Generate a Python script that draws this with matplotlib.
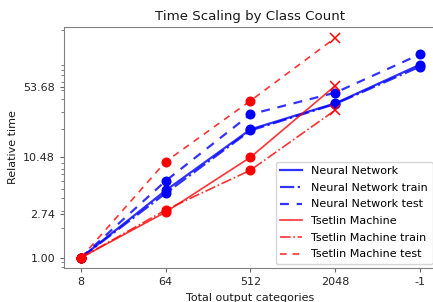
import matplotlib
matplotlib.use("Agg")
import matplotlib.pyplot as plt
import numpy as np

categories = ['8', '64', '512', '2048', '-1']
nn = [1.0, 4.8, 19.9, 36.5, 90.0]
nn_train = [1.0, 4.5, 19.4, 36.0, 86.0]
nn_test = [1.0, 6.0, 28.3, 46.8, 114.5]
tm = [1.0, 2.9, 10.4, 55.0]
tm_train = [1.0, 3.05, 7.7, 31.2]
tm_test = [1.0, 9.4, 38.8, 168.0]
yticks = [1.00, 2.74, 10.48, 53.68]

W, H = 433, 302
fig = plt.figure(figsize=(W / 100, H / 100), dpi=100)
ax = fig.add_axes([64 / W, (H - 268.3) / H, 373 / W, 241.6 / H])

x_nn = np.arange(len(nn))
x_tm = np.arange(len(tm))

lw_nn, lw_tm = 1.6, 1.2
ax.plot(x_nn, nn, color='blue', alpha=0.8, lw=lw_nn, ls='-', label='Neural Network')
ax.plot(x_nn, nn_train, color='blue', alpha=0.8, lw=lw_nn, ls='-.', label='Neural Network train')
ax.plot(x_nn, nn_test, color='blue', alpha=0.8, lw=lw_nn, ls=(0, (4, 3.5)), label='Neural Network test')
ax.plot(x_tm, tm, color='red', alpha=0.8, lw=lw_tm, ls='-', label='Tsetlin Machine')
ax.plot(x_tm, tm_train, color='red', alpha=0.8, lw=lw_tm, ls='-.', label='Tsetlin Machine train')
ax.plot(x_tm, tm_test, color='red', alpha=0.8, lw=lw_tm, ls=(0, (4, 3.5)), label='Tsetlin Machine test')

for s in (nn, nn_train, nn_test):
    ax.plot(x_nn, s, ls='none', marker='o', ms=6.2, color='blue')
for s in (tm, tm_train, tm_test):
    ax.plot(x_tm[:3], s[:3], ls='none', marker='o', ms=6.2, color='red')
    ax.plot(x_tm[3:], s[3:], ls='none', marker='x', ms=7, mew=1.1, color='red')

ax.set_yscale('log')
ax.set_ylim(0.782, 217.8)
ax.set_xlim(-0.2, 4.2)
ax.set_yticks(yticks)
ax.set_yticklabels(['%.2f' % v for v in yticks])
ax.set_xticks(range(len(categories)))
ax.set_xticklabels(categories)
ax.tick_params(labelsize=8.0, colors='0.15', length=3)
ax.tick_params(which='minor', length=2)
for sp in ax.spines.values():
    sp.set_color('0.5')
ax.tick_params(axis='both', which='both', color='0.4')

ax.set_title('Time Scaling by Class Count', fontsize=9.6, color='0.1', pad=5)
ax.set_xlabel('Total output categories', fontsize=8.0, color='0.1', labelpad=4)
ax.set_ylabel('Relative time', fontsize=8.0, color='0.1', labelpad=4)

leg = ax.legend(loc='lower right', fontsize=8.0, frameon=True, borderaxespad=0.4,
                handlelength=2.0, labelspacing=0.6)
leg.get_frame().set_edgecolor('0.8')

fig.savefig('out.png', dpi=100)
